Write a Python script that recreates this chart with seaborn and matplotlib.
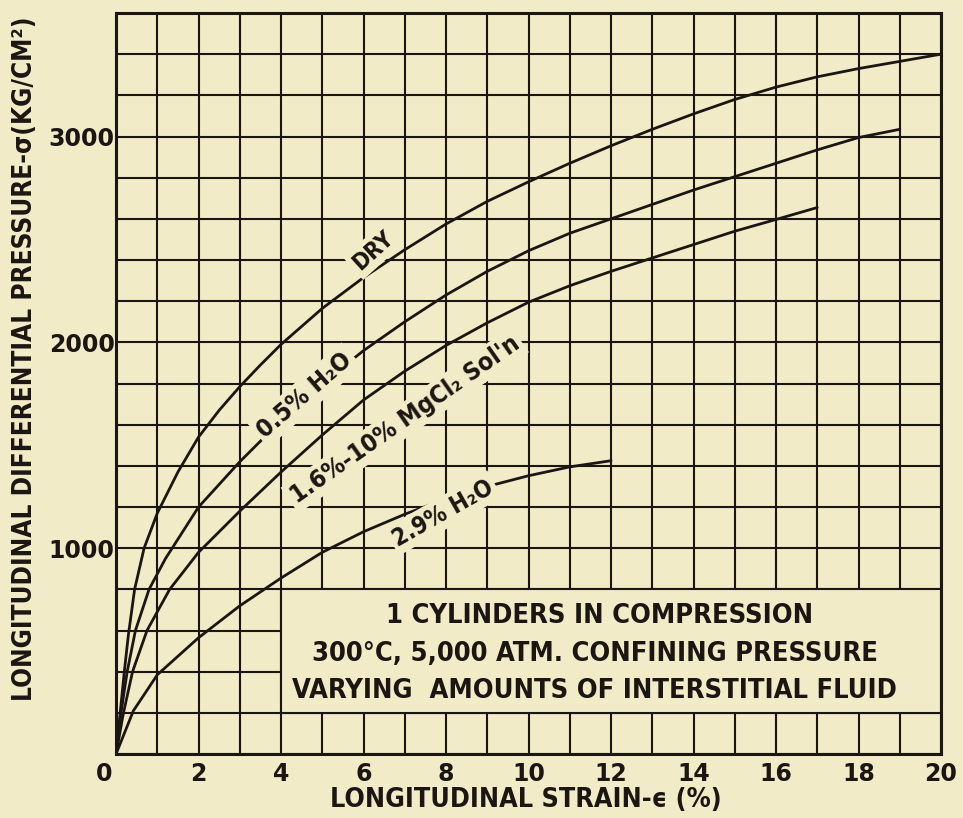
"""
Stress-strain curves, cylinders in compression at 300°C, 5,000 atm
- four curves (dry + 3 interstitial fluids) on square graph paper
- output: out.png
"""
import pandas as pd
import matplotlib
matplotlib.use("Agg")
import matplotlib.pyplot as plt
import matplotlib.transforms as mtransforms
from matplotlib.patches import Rectangle
import seaborn as sns

PAPER = "#f2ebc8"
INK = "#1c1613"

# values (strain %, stress kg/cm2)
dry_x = [0, 0.1, 0.2, 0.3, 0.45, 0.68, 1.0, 1.5, 2, 2.5, 3, 3.5, 4, 5, 6, 7, 8, 9, 10, 11, 12, 13, 14, 15, 16, 17,
         18, 19, 20]
dry_y = [0, 200, 400, 580, 800, 1000, 1170, 1370, 1540, 1670, 1785, 1890, 1990, 2165, 2315, 2450, 2575, 2685, 2780,
         2870, 2955, 3035, 3110, 3180, 3240, 3290, 3330, 3365, 3400]

h2o05_x = [0, 0.12, 0.27, 0.47, 0.8, 1.2, 2, 3, 4, 5, 6, 7, 8, 9, 10, 11, 12, 13, 14, 15, 16, 17, 18, 19]
h2o05_y = [0, 200, 400, 600, 800, 950, 1200, 1420, 1620, 1800, 1960, 2100, 2230, 2345, 2445, 2530, 2600,
           2670, 2740, 2805, 2870, 2935, 2995, 3035]

mgcl_x = [0, 0.18, 0.4, 0.75, 1.3, 2, 3, 4, 5, 6, 7, 8, 9, 10, 11, 12, 13, 14, 15, 16, 17]
mgcl_y = [0, 200, 400, 600, 800, 980, 1180, 1370, 1550, 1720, 1860, 1985, 2095, 2195, 2275, 2345, 2410,
          2475, 2540, 2597, 2655]

h2o29_x = [0, 0.42, 1, 2, 3, 4, 5, 6, 7, 8, 9, 10, 11, 12]
h2o29_y = [0, 210, 385, 565, 720, 855, 980, 1080, 1165, 1240, 1300, 1352, 1395, 1425]

frames = []
for name, xs, ys in [("dry", dry_x, dry_y), ("h2o05", h2o05_x, h2o05_y),
                     ("mgcl", mgcl_x, mgcl_y), ("h2o29", h2o29_x, h2o29_y)]:
    frames.append(pd.DataFrame({"strain": xs, "stress": ys, "fluid": name}))
df = pd.concat(frames, ignore_index=True)

sns.set_theme(style="white")
plt.rcParams["font.family"] = ["DejaVu Sans"]
plt.rcParams["font.stretch"] = "condensed"
plt.rcParams["font.weight"] = "bold"

fig = plt.figure(figsize=(9.63, 8.18), dpi=100, facecolor=PAPER)
ax = fig.add_axes([0.1205, 0.0782, 0.8567, 0.9059])
ax.set_facecolor(PAPER)

sns.lineplot(data=df, x="strain", y="stress", units="fluid", estimator=None, sort=False,
             color=INK, lw=2.0, ax=ax, legend=False, zorder=3)

ax.set_xlim(0, 20)
ax.set_ylim(0, 3600)
ax.set_xticks(range(0, 21, 2))
ax.set_xticks(range(0, 21), minor=True)
ax.set_yticks([1000, 2000, 3000])
ax.set_yticks(range(0, 3601, 200), minor=True)
ax.set_axisbelow(True)
ax.grid(which="both", color=INK, lw=1.5)
ax.tick_params(which="both", length=0, labelsize=17, colors=INK)
ax.tick_params(axis="x", pad=6)
ax.tick_params(axis="y", pad=1)
for s in ax.spines.values():
    s.set_color(INK)
    s.set_linewidth(2.2)

# digits on the axes are round, not condensed
for lbl in ax.get_xticklabels() + ax.get_yticklabels():
    lbl.set_fontstretch("normal")

# the "0" sits left of the corner
lbl0 = ax.get_xticklabels()[0]
lbl0.set_transform(lbl0.get_transform() + mtransforms.ScaledTranslation(-0.12, 0, fig.dpi_scale_trans))

ax.set_xlabel("LONGITUDINAL STRAIN-ϵ (%)", fontsize=19.3, fontweight="bold", color=INK, va="center")
ax.set_ylabel("LONGITUDINAL DIFFERENTIAL PRESSURE-σ(KG/CM²)", fontsize=18.8, fontweight="bold",
              color=INK, va="center")
ax.xaxis.set_label_coords(0.497, -0.062)
ax.yaxis.set_label_coords(-0.110, 0.534)

# blank panel for the caption
ax.add_patch(Rectangle((4, 200), 16, 600, facecolor=PAPER, edgecolor=INK, lw=1.5, zorder=1.5))
ax.text(11.72, 670, "1 CYLINDERS IN COMPRESSION", ha="center", va="center", fontsize=19.5, color=INK, zorder=4)
ax.text(11.6, 485, "300°C, 5,000 ATM. CONFINING PRESSURE", ha="center", va="center", fontsize=19.5, color=INK,
        zorder=4)
ax.text(11.6, 306, "VARYING  AMOUNTS OF INTERSTITIAL FLUID", ha="center", va="center", fontsize=19.5, color=INK,
        zorder=4)

box = dict(boxstyle="square,pad=0.15", fc=PAPER, ec="none")
labels = [("DRY", 6.23, 2444, 42, 16.5), ("0.5% H₂O", 4.58, 1744, 41, 17.8),
          ("1.6%-10% MgCl₂ Sol'n", 7.0, 1623, 35, 17.8), ("2.9% H₂O", 7.93, 1171, 29.5, 17)]
for txt, x, y, rot, fs in labels:
    ax.text(x, y, txt, rotation=rot, rotation_mode="anchor", ha="center", va="center",
            fontsize=fs, color=INK, bbox=box, zorder=4)

plt.savefig("out.png", dpi=100, facecolor=PAPER)
plt.close()
